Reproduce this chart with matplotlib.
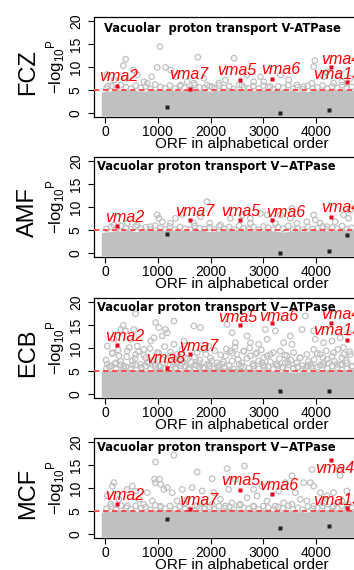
import numpy as np
import matplotlib
matplotlib.use("Agg")
import matplotlib.pyplot as plt

plt.rcParams['font.family'] = ['Liberation Sans', 'DejaVu Sans']
plt.rcParams['mathtext.fontset'] = 'custom'
plt.rcParams['mathtext.rm'] = 'Liberation Sans'
plt.rcParams['mathtext.it'] = 'Liberation Sans:italic'

# ---------------- data ----------------
panels = ['FCZ', 'AMF', 'ECB', 'MCF']
titles = ['Vacuolar  proton transport V-ATPase',
          'Vacuolar proton transport V\u2212ATPase',
          'Vacuolar proton transport V\u2212ATPase',
          'Vacuolar proton transport V\u2212ATPase']
threshold = 5

# V-ATPase complex members (ORF index)
gene_names = ['vma2', 'vma8', 'vma7', 'vma5', 'vma6', '', '', 'vma4', 'vma13']
gene_orf = [233, 1166, 1619, 2551, 3162, 3320, 4234, 4277, 4580]
gene_fcz = [6.0, 1.4, 5.3, 7.3, 7.5, 0.0, 0.7, 9.9, 6.8]
gene_amf = [5.8, 4.2, 7.1, 7.3, 7.1, 0.0, 0.4, 7.9, 4.0]
gene_ecb = [10.6, 5.7, 8.6, 14.9, 15.3, 0.7, 0.7, 15.5, 11.65]
gene_mcf = [6.5, 3.4, 5.5, 9.6, 8.8, 1.4, 1.9, 16.0, 5.7]

# upper edge of the dense cloud of non-significant ORFs
band_orf = [-70, 200, 400, 600, 800, 1000, 1200, 1400, 1600, 1800, 2000, 2200, 2400,
            2600, 2800, 3000, 3200, 3400, 3600, 3800, 4000, 4200, 4400, 4600, 4800, 5000, 5200]
band_fcz = [4.6, 5.0, 5.2, 4.9, 4.8, 5.3, 5.1, 4.9, 5.2, 5.0, 4.8, 5.1, 5.3, 5.2, 4.9,
            5.2, 5.0, 4.9, 4.8, 4.7, 5.0, 5.2, 5.1, 5.0, 5.0, 5.0, 5.0]
band_amf = [4.5, 4.8, 4.9, 4.7, 5.0, 5.1, 4.9, 5.0, 4.8, 5.0, 4.7, 4.9, 5.0, 5.1, 4.9,
            5.0, 4.8, 4.6, 4.9, 4.8, 5.0, 4.9, 5.1, 5.0, 5.0, 5.0, 5.0]
band_ecb = [5.0, 5.4, 5.5, 5.3, 5.2, 5.5, 5.4, 5.2, 5.4, 5.3, 5.5, 5.7, 5.6, 5.6, 5.4,
            5.3, 5.1, 4.9, 4.8, 4.9, 5.2, 5.4, 5.3, 5.4, 5.3, 5.3, 5.3]
band_mcf = [4.8, 5.2, 5.3, 5.0, 5.1, 5.4, 5.2, 5.1, 5.3, 5.0, 5.2, 5.4, 5.5, 5.3, 5.2,
            5.4, 5.1, 5.0, 4.9, 4.8, 5.1, 5.3, 5.2, 5.2, 5.2, 5.2, 5.2]

# ORFs sitting just above the cloud edge (same ORFs in every screen)
edge_orf = [30, 120, 210, 300, 400, 490, 580, 680, 770, 860, 950, 1050, 1140, 1230, 1330,
            1420, 1510, 1610, 1700, 1790, 1880, 1980, 2070, 2160, 2260, 2350, 2440, 2540,
            2630, 2720, 2810, 2910, 3000, 3090, 3190, 3280, 3370, 3470, 3560, 3650, 3740,
            3840, 3930, 4020, 4120, 4210, 4300, 4400, 4490, 4580, 4670]
edge_fcz = [5.4, 5.9, 5.2, 6.1, 5.6, 5.3, 6.0, 5.5, 5.8, 5.2, 6.2, 5.7, 5.4, 6.0, 5.3,
            5.9, 5.5, 5.2, 6.1, 5.6, 5.4, 5.8, 5.3, 6.0, 5.5, 5.9, 5.2, 6.2, 5.6, 5.4,
            5.9, 5.3, 6.0, 5.7, 5.2, 5.8, 5.5, 6.1, 5.3, 5.6, 5.2, 5.9, 5.4, 5.6, 6.0,
            5.3, 5.8, 5.5, 6.1, 5.4, 5.7]
edge_amf = [5.3, 5.7, 5.1, 5.9, 5.4, 5.2, 5.8, 5.3, 5.6, 5.1, 6.0, 5.5, 5.2, 5.8, 5.1,
            5.7, 5.3, 5.1, 5.9, 5.4, 5.2, 5.6, 5.1, 5.8, 5.3, 5.7, 5.1, 6.0, 5.4, 5.2,
            5.7, 5.1, 5.8, 5.5, 5.1, 5.6, 5.3, 5.9, 5.1, 5.4, 5.1, 5.7, 5.2, 5.4, 5.8,
            5.1, 5.6, 5.3, 5.9, 5.2, 5.5]
edge_ecb = [5.6, 6.2, 5.4, 6.4, 5.9, 5.5, 6.3, 5.7, 6.1, 5.4, 6.5, 6.0, 5.6, 6.3, 5.5,
            6.2, 5.8, 5.4, 6.4, 5.9, 5.6, 6.1, 5.5, 6.3, 5.8, 6.2, 5.4, 6.5, 5.9, 5.6,
            6.2, 5.5, 6.3, 6.0, 5.4, 6.1, 5.7, 6.4, 5.5, 5.9, 5.4, 6.2, 5.6, 5.9, 6.3,
            5.5, 6.1, 5.8, 6.4, 5.6, 6.0]
edge_mcf = [5.5, 6.0, 5.3, 6.2, 5.7, 5.4, 6.1, 5.6, 5.9, 5.3, 6.3, 5.8, 5.5, 6.1, 5.4,
            6.0, 5.6, 5.3, 6.2, 5.7, 5.5, 5.9, 5.4, 6.1, 5.6, 6.0, 5.3, 6.3, 5.7, 5.5,
            6.0, 5.4, 6.1, 5.8, 5.3, 5.9, 5.6, 6.2, 5.4, 5.7, 5.3, 6.0, 5.5, 5.7, 6.1,
            5.4, 5.9, 5.6, 6.2, 5.5, 5.8]

# individual ORFs standing out above the cloud
fcz_x = [1039, 391, 346, 1758, 2444, 3975, 3950, 989, 1147, 535, 44, 1241, 1336, 882, 57,
         611, 737, 800, 1871, 1934, 2280, 2690, 2816, 2942, 3005, 3320, 3477, 3635, 4139,
         4202, 4423, 4486, 4643, 1430, 1556, 1682, 2029, 2155, 2595, 3131, 3761, 3918, 4328,
         170, 391]
fcz_y = [14.4, 11.7, 10.3, 12.1, 11.9, 11.4, 10.1, 9.9, 9.9, 9.35, 8.4, 9.35, 7.9, 7.9, 5.9,
         8.3, 6.8, 6.5, 7.55, 6.1, 7.2, 8.3, 6.8, 7.9, 6.8, 8.3, 7.2, 6.1, 7.9,
         9.0, 8.3, 6.8, 7.55, 6.1, 6.8, 6.5, 5.75, 6.5, 6.1, 5.75, 5.75, 6.5, 6.5,
         7.2, 7.55]
amf_x = [1934, 989, 1021, 1084, 1336, 1462, 1682, 1808, 1984, 2375, 2595, 2753, 2942, 3068,
         3320, 3540, 3509, 3635, 3824, 3950, 3982, 4076, 4360, 4517, 4612, 4643, 422, 170,
         611, 863, 1241, 2186, 2753, 3226, 4202]
amf_y = [11.15, 8.3, 7.55, 6.8, 7.55, 8.4, 6.5, 7.9, 6.5, 7.55, 8.3, 7.55, 8.6, 8.3,
         8.3, 9.7, 7.55, 6.5, 6.8, 8.3, 7.2, 6.5, 6.8, 8.3, 7.55, 9.35, 6.5, 6.1,
         6.1, 5.75, 6.5, 6.1, 6.5, 6.5, 5.75]
ecb_x = [580, 1304, 1682, 1808, 346, 296, 391, 548, 958, 1021, 1147, 1178, 1084, 926, 863,
         170, 44, 485, 611, 737, 1304, 1493, 1462, 1871, 1966, 2312, 2406, 2469, 2690, 2753,
         2910, 3036, 3068, 3226, 3383, 3509, 3540, 3793, 3730, 3950, 3982, 4139, 4297, 4454,
         4517, 4612, 139, 265, 422, 580, 769, 989, 1241, 1367, 1556, 1745, 1997, 2123, 2280,
         2375, 2501, 2627, 2753, 2879, 3005, 3131, 3320, 3446, 3572, 3698, 3824, 3950, 4076,
         4202, 4328, 4486, 4643, 44, 202, 359, 517, 674, 832, 1021, 1367, 1525, 1777, 1934,
         2218, 2406, 2595, 2816, 2974, 3257, 3414, 3635, 3887, 4139, 4391, 4580,
         20, 80, 140, 190, 250, 300, 350, 410, 460, 520, 570, 630, 690, 740, 800, 850, 910,
         960, 1020, 1080, 1130, 1190, 1240, 1300, 1350, 1410, 1460, 1520, 1580, 1630, 1690,
         1740, 1800, 1860, 1910, 1970, 2020, 2080, 2130, 2190, 2240, 2300, 2350, 2410, 2460,
         2520, 2580, 2630, 2690, 2740, 2800, 2850, 2910, 2960, 3020, 3070, 3130, 3190, 3240,
         3300, 3350, 3410, 3460, 3520, 3570, 3630, 3690, 3740, 3800, 3850, 3910, 3960, 4020,
         4070, 4130, 4190, 4240, 4300, 4350, 4410, 4460, 4520, 4570, 4630, 4690]
ecb_y = [17.4, 15.8, 14.75, 14.4, 14.9, 14.0, 13.7, 14.0, 15.5, 14.4, 14.0, 13.3, 12.6, 12.2, 11.5,
         11.9, 10.4, 11.9, 10.4, 9.7, 10.8, 11.5, 9.7, 9.7, 10.4, 15.1, 13.3, 11.15, 12.6, 11.15,
         10.8, 14.0, 11.9, 13.7, 11.15, 12.6, 10.8, 16.9, 14.0, 13.7, 11.9, 11.15, 11.5, 12.2,
         10.1, 13.3, 9.0, 8.3, 9.35, 8.6, 7.9, 9.0, 8.3, 8.6, 7.55, 9.0, 7.9, 6.8, 8.3,
         9.35, 8.6, 9.35, 8.3, 9.0, 7.9, 8.6, 9.35, 8.3, 9.0, 7.9, 8.6, 9.7, 8.6,
         7.55, 9.0, 7.9, 8.6, 6.5, 6.8, 6.1, 7.2, 6.5, 6.8, 6.1, 6.8, 6.1, 6.8, 6.5,
         6.5, 7.2, 6.8, 6.1, 6.8, 6.5, 6.8, 6.8, 6.5, 6.8, 6.5, 6.8,
         7.4, 5.9, 8.8, 6.6, 9.6, 7.1, 5.6, 8.1, 10.1, 6.3, 7.7, 9.2, 5.8, 8.4, 6.9, 9.9, 7.3,
         6.0, 8.9, 7.6, 10.3, 6.4, 9.1, 7.0, 5.7, 8.2, 6.7, 7.9, 5.5, 6.9, 8.0,
         6.2, 7.4, 5.8, 8.6, 6.5, 7.2, 9.4, 6.0, 8.5, 7.0, 9.8, 6.3, 8.9, 10.2,
         7.5, 6.1, 9.3, 7.8, 10.0, 6.6, 8.7, 7.2, 9.6, 6.0, 8.3, 7.0, 9.0, 6.4,
         7.7, 5.8, 8.5, 6.9, 7.4, 5.6, 6.8, 7.9, 6.2, 5.7, 7.1, 6.0, 7.5, 8.8,
         6.3, 7.9, 9.4, 6.7, 8.2, 7.1, 9.7, 6.4, 8.6, 7.3, 9.2, 6.1]
mcf_x = [1304, 958, 1745, 2312, 2640, 2029, 2469, 3540, 3414, 3761, 3887, 3950, 4423, 4454,
         3918, 939, 1033, 958, 1052, 1178, 1115, 170, 139, 422, 580, 517, 800, 1273, 1462,
         1650, 1840, 2060, 2343, 2816, 2879, 2974, 3289, 3603, 3698, 4076, 4202, 4328, 4580,
         44, 265, 643, 895, 1367, 1556, 1871, 2186, 2406, 2690, 3068, 3383, 3824, 4139, 4486,
         107, 422, 737, 1052, 1493, 1745, 2029, 2280, 2564, 2816, 3226, 3540, 3950, 4328, 4612]
mcf_y = [17.1, 15.6, 13.45, 14.2, 14.75, 12.0, 11.9, 12.6, 11.15, 11.15, 11.15, 10.4, 14.0, 12.7,
         14.0, 11.9, 11.9, 11.15, 10.8, 10.1, 9.7, 11.15, 10.4, 9.7, 9.35, 10.4, 9.0, 9.0, 9.7,
         10.1, 9.35, 9.0, 9.7, 9.7, 8.3, 10.4, 9.35, 9.0, 7.55, 9.0, 8.3, 9.0, 9.35,
         8.3, 7.55, 7.55, 7.2, 7.2, 7.55, 6.8, 7.55, 6.8, 7.9, 7.2, 6.8, 7.2, 6.8, 7.2,
         6.5, 6.1, 6.5, 6.1, 6.5, 6.1, 6.5, 6.1, 6.5, 6.1, 6.1, 6.5, 6.1, 6.1, 6.5]

panel_genes = [gene_fcz, gene_amf, gene_ecb, gene_mcf]
panel_bands = [band_fcz, band_amf, band_ecb, band_mcf]
panel_edges = [edge_fcz, edge_amf, edge_ecb, edge_mcf]
panel_x = [fcz_x, amf_x, ecb_x, mcf_x]
panel_y = [fcz_y, amf_y, ecb_y, mcf_y]

# label placement (center of text) for the significant genes
label_pos = [
    {'vma2': (265, 7.9), 'vma7': (1588, 8.3), 'vma5': (2501, 9.35), 'vma6': (3332, 9.5),
     'vma4': (4454, 11.65), 'vma13': (4395, 8.3)},
    {'vma2': (372, 7.8), 'vma7': (1696, 9.0), 'vma5': (2571, 9.0), 'vma6': (3421, 8.85),
     'vma4': (4454, 9.85)},
    {'vma2': (372, 12.45), 'vma8': (1147, 7.7), 'vma7': (1777, 10.4), 'vma5': (2514, 16.5),
     'vma6': (3296, 16.9), 'vma4': (4454, 17.3), 'vma13': (4395, 13.7)},
    {'vma2': (372, 8.3), 'vma7': (1777, 7.2), 'vma5': (2564, 11.7), 'vma6': (3296, 10.6),
     'vma4': (4340, 14.2), 'vma13': (4395, 7.3)},
]

# ---------------- layout ----------------
W, H = 354, 570
fig = plt.figure(figsize=(W / 100, H / 100), dpi=100)
tops = [17, 157, 298, 438]
ax_left, ax_right, ax_h = 94, 390.6, 100
grey = '#C0C0C0'

for k in range(4):
    ax = fig.add_axes([ax_left / W, 1 - (tops[k] + ax_h) / H,
                       (ax_right - ax_left) / W, ax_h / H])
    ax.set_xlim(-208, 5408)
    ax.set_ylim(-0.8, 20.8)

    # dense cloud of points
    ax.fill_between(band_orf, -0.55, panel_bands[k], color=grey, lw=0, zorder=1)
    ax.scatter(edge_orf, panel_edges[k], s=16, facecolors='none', edgecolors=grey,
               linewidths=0.9, zorder=2)
    ax.scatter(panel_x[k], panel_y[k], s=16, facecolors='none', edgecolors=grey,
               linewidths=0.9, zorder=2)

    ax.axhline(threshold, color='#FF4545', lw=1.3, ls=(0, (3, 2)), zorder=3)

    ys = panel_genes[k]
    for name, gx, gy in zip(gene_names, gene_orf, ys):
        sig = gy > threshold
        ax.plot(gx, gy, 's', ms=3.2, mec='none', color='#E8001C' if sig else '#222222', zorder=4)
        if sig and name in label_pos[k]:
            lx, ly = label_pos[k][name]
            ax.text(lx, ly, name, color='#FF0000', style='italic', fontsize=11.5,
                    ha='center', va='center', zorder=5)

    ax.text(0.034 if k == 0 else 0.01, 0.95 if k == 0 else 0.975, titles[k],
            transform=ax.transAxes, family='DejaVu Sans', fontsize=8.3,
            fontweight='bold', ha='left', va='top', zorder=6)

    ax.set_xticks([0, 1000, 2000, 3000, 4000, 5000])
    ax.set_yticks([0, 5, 10, 15, 20])
    ax.tick_params(labelsize=10, length=4, width=0.8)
    ax.tick_params(axis='x', pad=1.5)
    ax.tick_params(axis='y', pad=4)
    for lab in ax.get_yticklabels():
        lab.set_rotation(90)
        lab.set_va('center')
    for s in ax.spines.values():
        s.set_linewidth(0.9)

    ax.set_xlabel('ORF in alphabetical order', fontsize=11, labelpad=-1)
    ax.set_ylabel(r'$\mathrm{-log_{10}{}^{P}}$', fontsize=12, labelpad=1.5)
    fig.text(28 / W, 1 - (tops[k] + 55) / H, panels[k], rotation=90, fontsize=17,
             ha='center', va='center')

fig.savefig('out.png', dpi=100)
